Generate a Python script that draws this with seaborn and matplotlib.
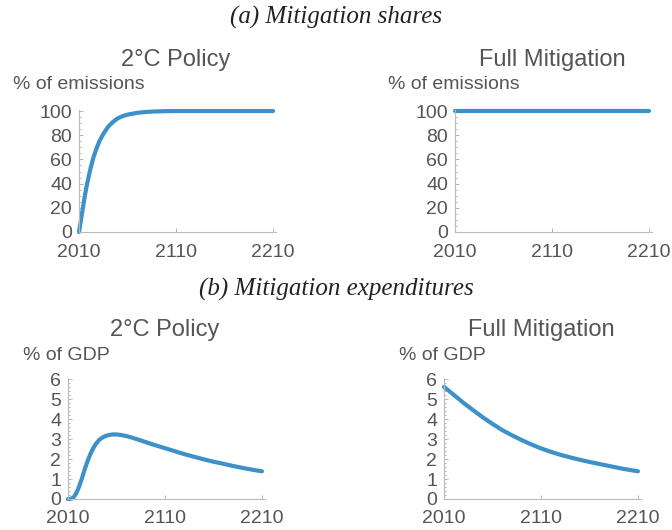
"""Mitigation shares and expenditures, 2C policy vs full mitigation."""
import matplotlib
matplotlib.use("Agg")
import matplotlib.pyplot as plt
import seaborn as sns
from matplotlib.ticker import AutoMinorLocator, FixedLocator

sns.set_theme(style="white")
plt.rcParams["font.family"] = ["Liberation Sans", "DejaVu Sans"]

# (a) mitigation shares, % of emissions
share_years = [2010, 2012, 2014, 2016, 2018, 2020, 2022, 2025, 2028, 2031, 2035,
               2040, 2045, 2050, 2055, 2060, 2070, 2080, 2090, 2100, 2110, 2160, 2210]
share_2c = [0, 10, 20, 30, 38.5, 46, 53, 62, 69, 75, 81,
            87, 91, 94, 95.8, 97, 98.5, 99.3, 99.7, 99.9, 100, 100, 100]
share_full_years = [2010, 2210]
share_full = [100, 100]

# (b) mitigation expenditures, % of GDP
exp_2c_years = [2010, 2012, 2014, 2016, 2018, 2020, 2022, 2024, 2026, 2028, 2030,
                2033, 2036, 2039, 2042, 2045, 2048, 2052, 2056, 2060, 2065, 2070,
                2076, 2085, 2096, 2110, 2120, 2130, 2140, 2150, 2160, 2170, 2180,
                2190, 2200, 2210]
exp_2c = [0, 0.0, 0.03, 0.1, 0.25, 0.45, 0.7, 0.98, 1.3, 1.6, 1.88,
          2.25, 2.55, 2.78, 2.96, 3.07, 3.15, 3.21, 3.24, 3.24, 3.21, 3.16,
          3.08, 2.94, 2.76, 2.55, 2.40, 2.25, 2.12, 1.99, 1.87, 1.77, 1.66,
          1.56, 1.47, 1.39]
exp_full_years = [2010, 2020, 2030, 2040, 2050, 2060, 2070, 2080, 2090, 2100, 2110,
                  2120, 2130, 2140, 2150, 2160, 2170, 2180, 2190, 2200, 2210]
exp_full = [5.63, 5.23, 4.83, 4.46, 4.10, 3.77, 3.46, 3.20, 2.96, 2.74, 2.54,
            2.37, 2.22, 2.09, 1.97, 1.86, 1.76, 1.66, 1.56, 1.47, 1.39]

year_ticks = [2010, 2110, 2210]
LINE = "#3d91c9"
GREY = "#555555"

fig = plt.figure(figsize=(6.72, 5.3), dpi=100)


def panel(rect, years, values, ylim, yticks, minor_n, xpad):
    ax = fig.add_axes(rect)
    sns.lineplot(x=years, y=values, ax=ax, color=LINE, linewidth=3, clip_on=False)
    ax.set_xlim(2010, 2213)
    ax.set_ylim(*ylim)
    ax.xaxis.set_major_locator(FixedLocator(year_ticks))
    ax.yaxis.set_major_locator(FixedLocator(yticks))
    ax.yaxis.set_minor_locator(AutoMinorLocator(minor_n))
    for side in ["top", "right"]:
        ax.spines[side].set_visible(False)
    for side in ["left", "bottom"]:
        ax.spines[side].set_color("#bbbbbb")
        ax.spines[side].set_linewidth(0.8)
    ax.tick_params(axis="both", which="both", direction="in", colors="#aaaaaa",
                   labelcolor=GREY, labelsize=14, left=True, bottom=True)
    ax.tick_params(axis="both", which="major", length=3, width=0.6)
    ax.tick_params(axis="y", which="minor", length=1.5, width=0.6)
    ax.tick_params(axis="y", pad=5)
    ax.tick_params(axis="x", pad=xpad)
    ax.set_xlabel("")
    ax.set_ylabel("")
    ax.patch.set_alpha(0)
    return ax


top_ticks = [0, 20, 40, 60, 80, 100]
bot_ticks = [0, 1, 2, 3, 4, 5, 6]
panel([0.1176, 0.5623, 0.293, 0.2305], share_years, share_2c, (0, 101), top_ticks, 4, 9)
panel([0.677, 0.5623, 0.293, 0.2305], share_full_years, share_full, (0, 101), top_ticks, 4, 9)
panel([0.1012, 0.0585, 0.293, 0.2274], exp_2c_years, exp_2c, (0, 6.05), bot_ticks, 5, 8)
panel([0.6607, 0.0585, 0.293, 0.2274], exp_full_years, exp_full, (0, 6.05), bot_ticks, 5, 8)

serif = ["Liberation Serif", "DejaVu Serif"]
fig.text(0.5, 0.968, "(a) Mitigation shares", family=serif, style="italic",
         fontsize=18, color="#222222", ha="center", va="center")
fig.text(0.5, 0.453, "(b) Mitigation expenditures", family=serif, style="italic",
         fontsize=18, color="#222222", ha="center", va="center")

for x, y, txt in [(0.262, 0.887, "2°C Policy"), (0.822, 0.887, "Full Mitigation"),
                  (0.245, 0.377, "2°C Policy"), (0.806, 0.377, "Full Mitigation")]:
    fig.text(x, y, txt, fontsize=17, color=GREY, ha="center", va="center")

for x, y, txt in [(0.019, 0.84, "% of emissions"), (0.577, 0.84, "% of emissions"),
                  (0.034, 0.33, "% of GDP"), (0.594, 0.33, "% of GDP")]:
    fig.text(x, y, txt, fontsize=14, color=GREY, ha="left", va="center")

fig.savefig("out.png", dpi=100)
